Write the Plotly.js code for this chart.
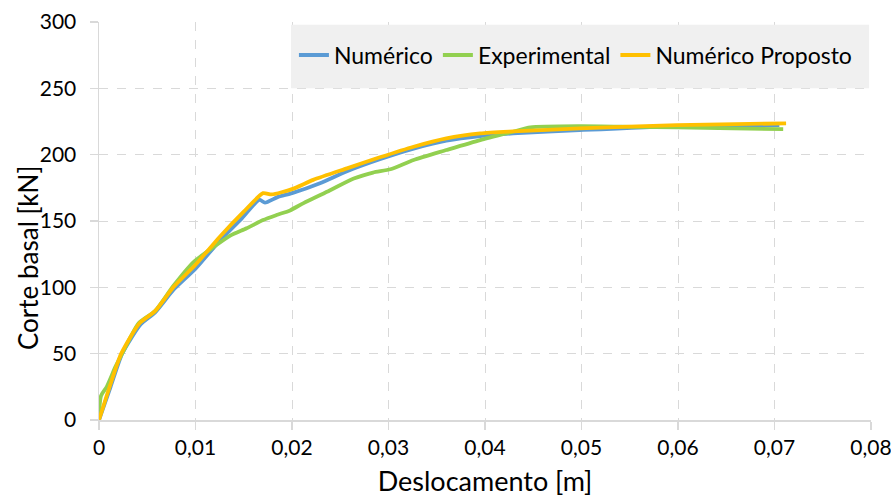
<!DOCTYPE html>
<html>
<head>
<meta charset="utf-8">
<script src="https://cdn.plot.ly/plotly-3.0.1.min.js"></script>
<style>
  html, body { margin: 0; padding: 0; background: #ffffff; }
  #chart { width: 891px; height: 498px; }
</style>
</head>
<body>
<div id="chart"></div>
<script>
// Pushover curves: base shear [kN] against top displacement [m]
const seriesNames = ['Numérico', 'Experimental', 'Numérico Proposto'];

const numericoX = [0, 0.0012, 0.0024, 0.0043, 0.0058, 0.0077, 0.0100, 0.0125, 0.0148, 0.0166, 0.0172, 0.0185, 0.0200, 0.0229, 0.0257, 0.0291, 0.0326, 0.0360, 0.0395, 0.0429, 0.0498, 0.0599, 0.0705];
const numericoY = [0, 25, 50, 72, 81, 98, 114, 135, 152, 166, 163.8, 168, 171, 178.5, 187.5, 196.5, 204.5, 210.5, 214, 216, 218.5, 221.6, 222.3];

const experimentalX = [0, 0.0002, 0.0008, 0.0017, 0.0024, 0.0041, 0.0058, 0.0077, 0.0098, 0.0118, 0.0136, 0.0153, 0.0170, 0.0184, 0.0198, 0.0212, 0.0239, 0.0264, 0.0284, 0.0302, 0.0326, 0.0360, 0.0395, 0.0429, 0.0447, 0.0498, 0.0554, 0.0599, 0.0657, 0.0709];
const experimentalY = [3, 18, 25, 40, 50, 73, 82, 101, 119, 130, 139, 144.5, 150.7, 154.5, 158, 163.5, 173, 182, 186.5, 189, 196, 203.5, 211, 217.3, 220.6, 221.5, 221, 220.6, 219.8, 219.3];

const propostoX = [0, 0.0011, 0.0023, 0.0042, 0.0058, 0.0077, 0.0100, 0.0125, 0.0150, 0.0170, 0.0179, 0.0200, 0.0222, 0.0257, 0.0291, 0.0326, 0.0360, 0.0395, 0.0429, 0.0498, 0.0599, 0.0712];
const propostoY = [0, 25, 50, 73, 82, 100, 117, 138, 157, 171, 170, 174, 181, 189.7, 198, 206, 212.3, 216, 217.5, 219.8, 222.3, 223.6];

const seriesColors = ['#5B9BD5', '#92D050', '#FFC000'];

// Axis ticks
const xTickVals = [0, 0.01, 0.02, 0.03, 0.04, 0.05, 0.06, 0.07, 0.08];
const xTickText = ['0', '0,01', '0,02', '0,03', '0,04', '0,05', '0,06', '0,07', '0,08'];
const yTickVals = [0, 50, 100, 150, 200, 250, 300];

const xTitle = 'Deslocamento [m]';
const yTitle = 'Corte basal [kN]';

const FONT = 'Lato, Calibri, Carlito, sans-serif';

function curve(x, y, name, color) {
  return {
    x: x, y: y, name: name, type: 'scatter', mode: 'lines',
    line: { color: color, width: 3.8, shape: 'spline', smoothing: 0.6 },
    hoverinfo: 'skip'
  };
}

const data = [
  curve(numericoX, numericoY, seriesNames[0], seriesColors[0]),
  curve(experimentalX, experimentalY, seriesNames[1], seriesColors[1]),
  curve(propostoX, propostoY, seriesNames[2], seriesColors[2])
];

const layout = {
  width: 891, height: 498,
  margin: { l: 99, r: 20, t: 22, b: 78 },
  paper_bgcolor: '#ffffff',
  plot_bgcolor: '#ffffff',
  separators: ', ',
  font: { family: FONT, color: '#000000', size: 21 },
  showlegend: true,
  legend: {
    orientation: 'h',
    x: 0.2525, xanchor: 'left',
    y: 0.917, yanchor: 'middle',
    bgcolor: 'rgba(0,0,0,0)',
    font: { family: FONT, size: 23, color: '#000000' },
    itemclick: false, itemdoubleclick: false
  },
  xaxis: {
    range: [0, 0.08],
    tickmode: 'array', tickvals: xTickVals, ticktext: xTickText,
    ticklabeloverflow: 'allow',
    showline: true, linecolor: '#D9D9D9', linewidth: 1.5,
    showgrid: true, gridcolor: '#D9D9D9', griddash: 'dash', gridwidth: 1,
    zeroline: false,
    ticks: 'outside', ticklen: 8, tickcolor: '#D9D9D9', tickwidth: 1.5,
    tickfont: { family: FONT, size: 21, color: '#000000' },
    title: { text: xTitle, font: { family: FONT, size: 27, color: '#000000' }, standoff: 14 }
  },
  yaxis: {
    range: [0, 300],
    tickmode: 'array', tickvals: yTickVals,
    showline: true, linecolor: '#D9D9D9', linewidth: 1.5,
    showgrid: true, gridcolor: '#D9D9D9', griddash: 'dash', gridwidth: 1,
    zeroline: false,
    ticks: 'outside', ticklen: 8, tickcolor: '#D9D9D9', tickwidth: 1.5,
    ticklabelstandoff: 9,
    tickfont: { family: FONT, size: 21, color: '#000000' }
  },
  annotations: [{
    // vertical axis caption
    text: yTitle, xref: 'paper', yref: 'paper',
    x: -0.092, y: 0.407, xanchor: 'center', yanchor: 'middle',
    textangle: -90, showarrow: false,
    font: { family: FONT, size: 26, color: '#000000' }
  }],
  shapes: [{
    // shaded panel behind the legend entries
    type: 'rect', xref: 'x', yref: 'y',
    x0: 0.0199, x1: 0.0798, y0: 250, y1: 298,
    fillcolor: '#F0F0F0', line: { width: 0 }, layer: 'between'
  }]
};

Plotly.newPlot('chart', data, layout, { displayModeBar: false, staticPlot: true });
</script>
</body>
</html>
